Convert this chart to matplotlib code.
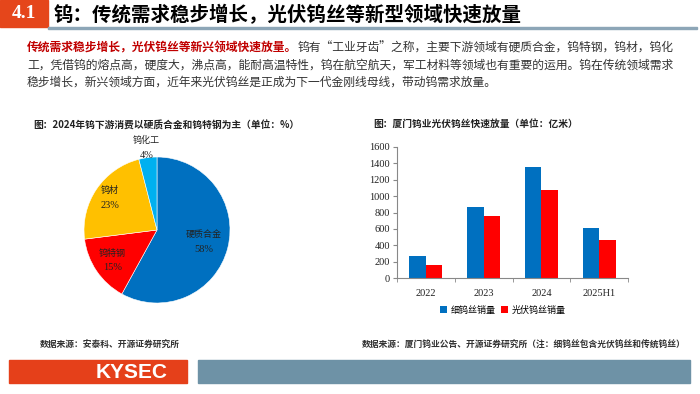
import matplotlib
matplotlib.use("Agg")
import matplotlib.pyplot as plt
from matplotlib.patches import Rectangle
import numpy as np

plt.rcParams['font.family'] = ['Noto Sans CJK SC', 'DejaVu Sans']

# ---- data ----
title = "钨：传统需求稳步增长，光伏钨丝等新型领域快速放量"
section = "4.1"
body_red = "传统需求稳步增长，光伏钨丝等新兴领域快速放量。"
body_lines = [
    "钨有“工业牙齿”之称，主要下游领域有硬质合金，钨特钢，钨材，钨化",
    "工，凭借钨的熔点高，硬度大，沸点高，能耐高温特性，钨在航空航天，军工材料等领域也有重要的运用。钨在传统领域需求",
    "稳步增长，新兴领域方面，近年来光伏钨丝是正成为下一代金刚线母线，带动钨需求放量。",
]

pie_title = "图：2024年钨下游消费以硬质合金和钨特钢为主（单位：%）"
pie_labels = ["硬质合金", "钨特钢", "钨材", "钨化工"]
pie_values = [58, 15, 23, 4]
pie_colors = ["#0070C0", "#FF0000", "#FFC000", "#00B0F0"]

bar_title = "图：厦门钨业光伏钨丝快速放量（单位：亿米）"
bar_cats = ["2022", "2023", "2024", "2025H1"]
fine_wire = [270, 870, 1350, 610]
pv_wire = [160, 760, 1070, 470]
bar_series = ["细钨丝销量", "光伏钨丝销量"]

src_left = "数据来源：安泰科、开源证券研究所"
src_right = "数据来源：厦门钨业公告、开源证券研究所（注：细钨丝包含光伏钨丝和传统钨丝）"

W, H = 700, 394
fig = plt.figure(figsize=(7, 3.94), dpi=100)


def px(x, y):
    return x / W, 1 - y / H


# ---- header ----
fig.patches.append(Rectangle(px(0, 27), 48 / W, 27 / H, transform=fig.transFigure,
                             color="#E5461B", zorder=1))
fig.patches.append(Rectangle(px(48, 29), 649 / W, 2 / H, transform=fig.transFigure,
                             color="#8DA6B7", zorder=1))
fig.text(*px(24, 14), section, color="white", fontsize=14, fontweight="bold",
         family="Liberation Serif", ha="center", va="center")
fig.text(*px(54, 15), title, color="black", fontsize=14, fontweight="bold",
         ha="left", va="center")

# ---- body text ----
bsize = 8.5
r = fig.canvas.get_renderer()
t_red = fig.text(*px(27, 48), body_red, color="#C00000", fontsize=bsize,
                 fontweight="bold", ha="left", va="center")
ext = t_red.get_window_extent(renderer=r)
fig.text(ext.x1 / W, 1 - 48 / H, body_lines[0], color="#333333", fontsize=bsize,
         ha="left", va="center")
for i, line in enumerate(body_lines[1:]):
    fig.text(*px(27, 65 + 17 * i), line, color="#333333", fontsize=bsize,
             ha="left", va="center")

# ---- pie chart ----
fig.text(*px(33, 126), pie_title, fontsize=7, fontweight="bold", color="#222222",
         ha="left", va="center")
cx, cy, rad = 157, 230, 73
ax1 = fig.add_axes([(cx - rad) / W, 1 - (cy + rad) / H, 2 * rad / W, 2 * rad / H])
wedges, _ = ax1.pie(pie_values, colors=pie_colors, startangle=90, counterclock=False,
                    wedgeprops=dict(edgecolor="white", linewidth=0.4))
ax1.set_xlim(-1, 1)
ax1.set_ylim(-1, 1)
label_r = [0.66, 0.74, 0.78, 1.13]
for w, lab, val, lr in zip(wedges, pie_labels, pie_values, label_r):
    th = np.deg2rad((w.theta1 + w.theta2) / 2)
    x, y = lr * np.cos(th), lr * np.sin(th)
    ax1.text(x, y + 0.1, lab, fontsize=6.5, color="#222222", ha="center", va="center")
    ax1.text(x, y - 0.1, f"{val}%", fontsize=7.5, color="#222222", ha="center",
             va="center", family="Liberation Serif")

# ---- bar chart ----
fig.text(*px(373, 124), bar_title, fontsize=7, fontweight="bold", color="#222222",
         ha="left", va="center")
ax2 = fig.add_axes([397 / W, 1 - 278 / H, 231 / W, 131 / H])
xs = np.arange(len(bar_cats))
bw = 0.286
ax2.bar(xs - bw / 2, fine_wire, bw, color="#0070C0", label=bar_series[0])
ax2.bar(xs + bw / 2, pv_wire, bw, color="#FF0000", label=bar_series[1])
ax2.set_xlim(-0.5, len(bar_cats) - 0.5)
ax2.set_ylim(0, 1600)
ax2.set_yticks(range(0, 1601, 200))
ax2.set_xticks(xs)
ax2.set_xticklabels(bar_cats)
ax2.set_xticks(np.arange(-0.5, len(bar_cats)), minor=True)
ax2.tick_params(axis="x", which="major", length=0, pad=8)
ax2.tick_params(axis="x", which="minor", length=3, direction="out", color="#888888")
ax2.tick_params(axis="y", length=3, direction="out", color="#888888", pad=2)
for lab in ax2.get_xticklabels() + ax2.get_yticklabels():
    lab.set_family("Liberation Serif")
    lab.set_fontsize(7.5)
    lab.set_color("#222222")
for s in ["top", "right"]:
    ax2.spines[s].set_visible(False)
for s in ["left", "bottom"]:
    ax2.spines[s].set_color("#888888")
    ax2.spines[s].set_linewidth(0.8)
fig.legend(*ax2.get_legend_handles_labels(), loc="center", bbox_to_anchor=px(503, 310),
           ncol=2, frameon=False, fontsize=6.5, handlelength=0.8, handleheight=0.8,
           handletextpad=0.4, columnspacing=0.6)

# ---- sources ----
fig.text(*px(40, 345), src_left, fontsize=6.3, fontweight="bold", color="#333333",
         ha="left", va="center")
fig.text(*px(362, 345), src_right, fontsize=6.3, fontweight="bold", color="#333333",
         ha="left", va="center")

# ---- footer ----
fig.patches.append(Rectangle(px(9, 383), 178 / W, 23 / H, transform=fig.transFigure,
                             color="#E5401A", zorder=1))
fig.patches.append(Rectangle(px(198, 383), 492 / W, 23 / H, transform=fig.transFigure,
                             color="#6E92A6", zorder=1))
fig.text(*px(168, 372), "KYSEC", color="white", fontsize=15, fontweight="bold",
         family="Liberation Sans", ha="right", va="center")

fig.savefig("out.png", dpi=100)
